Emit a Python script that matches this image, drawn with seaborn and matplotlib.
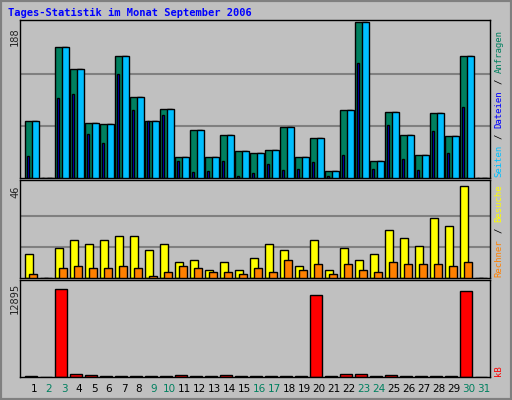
import matplotlib
matplotlib.use("Agg")
import matplotlib.pyplot as plt
import seaborn as sns
import numpy as np
import pandas as pd

days = list(range(1, 32))
anfragen = [69,0,158,131,66,65,147,97,69,83,25,58,25,52,33,30,34,62,25,48,9,82,188,20,80,52,28,78,51,147,0]
dateien  = [69,0,158,131,66,65,147,97,69,83,25,58,25,52,33,30,34,62,25,48,9,82,188,20,80,52,28,78,51,147,0]
seiten   = [26,0,96,101,53,42,125,82,69,76,21,7,8,21,2,6,17,10,11,19,3,28,139,11,64,23,10,57,30,85,0]
besuche  = [12,0,15,19,17,19,21,21,14,17,8,9,4,8,4,10,17,14,6,19,4,15,9,12,24,20,16,30,26,46,0]
rechner  = [2,0,5,6,5,5,6,5,1,3,6,5,3,3,2,5,3,9,4,7,2,7,4,3,8,7,7,7,6,8,0]
kbytes   = [100,0,12895,400,300,100,100,100,100,100,300,100,100,300,100,200,100,100,100,12040,100,500,400,100,300,100,100,100,100,12600,0]
weekend = {2,3,9,10,16,17,23,24,30,31}
title = "Tages-Statistik im Monat September 2006"

BG = "#C0C0C0"
sns.set_style("white")
plt.rcParams['font.family'] = ['DejaVu Sans Mono']
fig = plt.figure(figsize=(5.12, 4.0), dpi=100)
fig.patch.set_facecolor(BG)
W, H = 512, 400

def mkax(x0, y0, x1, y1):
    ax = fig.add_axes([x0 / W, 1 - y1 / H, (x1 - x0) / W, (y1 - y0) / H])
    ax.set_facecolor(BG)
    for s in ax.spines.values():
        s.set_color("black"); s.set_linewidth(1)
    ax.set_xticks([]); ax.set_yticks([])
    return ax

d = np.array(days, dtype=float)

def bars(ax, left_off, width, vals, color, z):
    df = pd.DataFrame({"x": d + left_off + width / 2, "y": vals})
    sns.barplot(data=df, x="x", y="y", native_scale=True, width=width, color=color,
                saturation=1, edgecolor="black", linewidth=1, ax=ax, zorder=z)
    ax.set_xlabel(""); ax.set_ylabel("")
    ax.set_xticks([]); ax.set_yticks([])

# top panel
ax1 = mkax(20, 20, 490, 178)
ymax1 = 188
for g in (ymax1 / 3, 2 * ymax1 / 3):
    ax1.axhline(g, color="#808080", lw=1.5, zorder=1)
bars(ax1, -0.167, 0.78, anfragen, "#00805F", 2)
bars(ax1, 0.29, 0.49, dateien, "#00BFFF", 3)
bars(ax1, -0.05, 0.18, seiten, "#0000FF", 4)
ax1.set_ylim(0, ymax1 * 1.012)
ax1.set_xlim(0.5, 31.83)

# middle
ax2 = mkax(20, 180, 490, 278)
ymax2 = 46
for g in (ymax2 / 3, 2 * ymax2 / 3):
    ax2.axhline(g, color="#808080", lw=1.5, zorder=1)
bars(ax2, -0.167, 0.56, besuche, "#FFFF00", 2)
bars(ax2, 0.12, 0.49, rechner, "#FF8000", 3)
ax2.set_ylim(0, ymax2 * 1.06)
ax2.set_xlim(0.5, 31.83)

# bottom
ax3 = mkax(20, 280, 490, 377)
bars(ax3, -0.167, 0.78, kbytes, "#FF0000", 2)
ax3.set_ylim(0, 12895 * 1.1)
ax3.set_xlim(0.5, 31.83)

# texts
fig.text(8 / W, 1 - 13 / H, title, color="#0000FF", fontsize=7.5, fontweight="bold", va="center")
fig.text(15 / W, 1 - 37 / H, "188", rotation=90, fontsize=7.5, va="center", ha="center")
fig.text(15 / W, 1 - 192 / H, "46", rotation=90, fontsize=7.5, va="center", ha="center")
fig.text(15 / W, 1 - 298 / H, "12895", rotation=90, fontsize=7.5, va="center", ha="center")

FS = 6.5
CH = FS / 72 * 100 * 0.602 + 0.05

def vlabel(x, ybot, parts):
    cur = ybot
    for s, c in parts:
        fig.text(x / W, 1 - cur / H, s.strip(), rotation=90, color=c, fontsize=FS,
                 va="bottom", ha="center")
        cur -= len(s) * CH

vlabel(499, 177, [("Seiten", "#00BFFF"), (" ", "black"), ("/ ", "black"), ("Dateien", "#0000FF"),
                  (" ", "black"), ("/ ", "black"), ("Anfragen", "#00805F")])
vlabel(499, 277, [("Rechner", "#FF8000"), (" ", "black"), ("/ ", "black"), ("Besuche", "#FFFF00")])
vlabel(499, 376, [("kB", "#FF0000")])

for dd in days:
    px = 34 + 15 * (dd - 1)
    fig.text(px / W, 1 - 389 / H, str(dd), fontsize=7.5, ha="center", va="center",
             color="#00805F" if dd in weekend else "black", family="DejaVu Sans")

from matplotlib.patches import Rectangle
fig.patches.append(Rectangle((0, 0), 1, 1, transform=fig.transFigure, fill=False,
                             edgecolor="#808080", lw=3))
fig.savefig("out.png", dpi=100, facecolor=BG)
